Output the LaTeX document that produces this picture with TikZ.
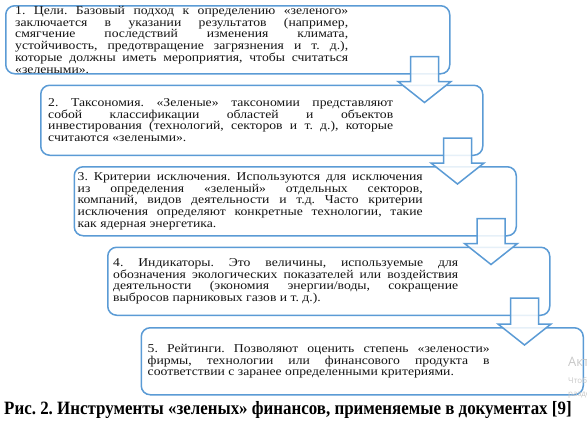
\documentclass[tikz,border=0pt]{standalone}
\usepackage{fontspec}
\setmainfont{Liberation Serif}
\newfontfamily\boxfont[FakeStretch=1.14]{Liberation Serif}
\newfontfamily\capfont[FakeStretch=0.9]{Liberation Serif}
\newfontfamily\winfont{Open Sans}
\usetikzlibrary{positioning, calc}
\definecolor{stepblue}{RGB}{91, 155, 213}
\definecolor{txtgray}{RGB}{20, 20, 20}
\definecolor{wmgray}{RGB}{200, 200, 200}
\frenchspacing

\begin{document}
\begin{tikzpicture}[
  stepbox/.style={draw=stepblue, line width=1.5pt, rounded corners=9pt,
                  minimum width=442pt, anchor=north west, inner sep=0pt},
  steptxt/.style={inner sep=0pt, text=txtgray,
                  font=\boxfont\fontsize{12}{11.7}\selectfont},
  blockarrow/.style={draw=stepblue, line width=1.5pt, fill=white,
                     fill opacity=0.85, line join=miter},
  wm/.style={anchor=base west, inner sep=0pt, text=wmgray, font=\winfont}
]
\useasboundingbox (0,0) rectangle (587pt,-426pt);

% ── Steps ─────────────────────────────────────────────────────────────────
\node[stepbox, minimum width=444pt, minimum height=68pt] (b1) at (5pt,-5pt) {};
\node[stepbox, minimum height=70pt, below=10pt of b1.south west,
      anchor=north west, xshift=35pt] (b2) {};
\node[stepbox, minimum height=69pt, below=10pt of b2.south west,
      anchor=north west, xshift=33.5pt] (b3) {};
\node[stepbox, minimum height=68pt, below=10pt of b3.south west,
      anchor=north west, xshift=33.5pt] (b4) {};
\node[stepbox, minimum height=67pt, below=11pt of b4.south west,
      anchor=north west, xshift=33.5pt] (b5) {};

\node[steptxt, right=10pt of b1.west] (t1) {\parbox{333pt}{%
  1. Цели. Базовый подход к определению «зеленого»\linebreak
  заключается в указании результатов (например,\linebreak
  смягчение последствий изменения климата,\linebreak
  устойчивость, предотвращение загрязнения и т. д.),\linebreak
  которые должны иметь мероприятия, чтобы считаться\linebreak
  «зелеными».}};

\node[steptxt, right=8pt of b2.west] (t2) {\parbox{345pt}{%
  2. Таксономия. «Зеленые» таксономии представляют\linebreak
  собой классификации областей и объектов\linebreak
  инвестирования (технологий, секторов и т. д.), которые\linebreak
  считаются «зелеными».}};

\node[steptxt, right=4pt of b3.west] (t3) {\parbox{345pt}{%
  3. Критерии исключения. Используются для исключения\linebreak
  из определения «зеленый» отдельных секторов,\linebreak
  компаний, видов деятельности и т.д. Часто критерии\linebreak
  исключения определяют конкретные технологии, такие\linebreak
  как ядерная энергетика.}};

\node[steptxt, right=6pt of b4.west] (t4) {\parbox{345pt}{%
  4. Индикаторы. Это величины, используемые для\linebreak
  обозначения экологических показателей или воздействия\linebreak
  деятельности (экономия энергии/воды, сокращение\linebreak
  выбросов парниковых газов и т. д.).}};

\node[steptxt, right=7pt of b5.west] (t5) {\parbox{342pt}{%
  5. Рейтинги. Позволяют оценить степень «зелености»\linebreak
  фирмы, технологии или финансового продукта в\linebreak
  соответствии с заранее определенными критериями.}};

% ── Block arrows between steps ────────────────────────────────────────────
\foreach \src/\dst in {b1/b2, b2/b3, b3/b4, b4/b5}{
  \coordinate (m) at ([xshift=-26pt]\src.south east);
  \coordinate (h) at (m |- \dst.north);
  \draw[blockarrow]
    ([shift={(-14pt,18pt)}]m) -- ([shift={(14pt,18pt)}]m)
    -- ([shift={(14pt,3pt)}]h) -- ([shift={(26.5pt,3pt)}]h)
    -- ([yshift=-18pt]h) -- ([shift={(-26.5pt,3pt)}]h)
    -- ([shift={(-14pt,3pt)}]h) -- cycle;
}

% ── Caption ───────────────────────────────────────────────────────────────
\node[anchor=base west, inner sep=0pt, font=\capfont\bfseries\fontsize{18.8}{22}\selectfont]
  (cap) at (4pt,-414pt)
  {Рис. 2. Инструменты «зеленых» финансов, применяемые в документах [9]};

% screen watermark, cut by the page edge
\node[wm, font=\winfont\fontsize{13}{15}\selectfont] (wm1) at (568pt,-366pt) {Акти};
\node[wm, font=\winfont\fontsize{8}{9}\selectfont] (wm2) at (568pt,-383pt) {Чтоб};
\node[wm, font=\winfont\fontsize{8}{9}\selectfont] (wm3) at (568pt,-396pt) {разде};

\end{tikzpicture}
\end{document}
